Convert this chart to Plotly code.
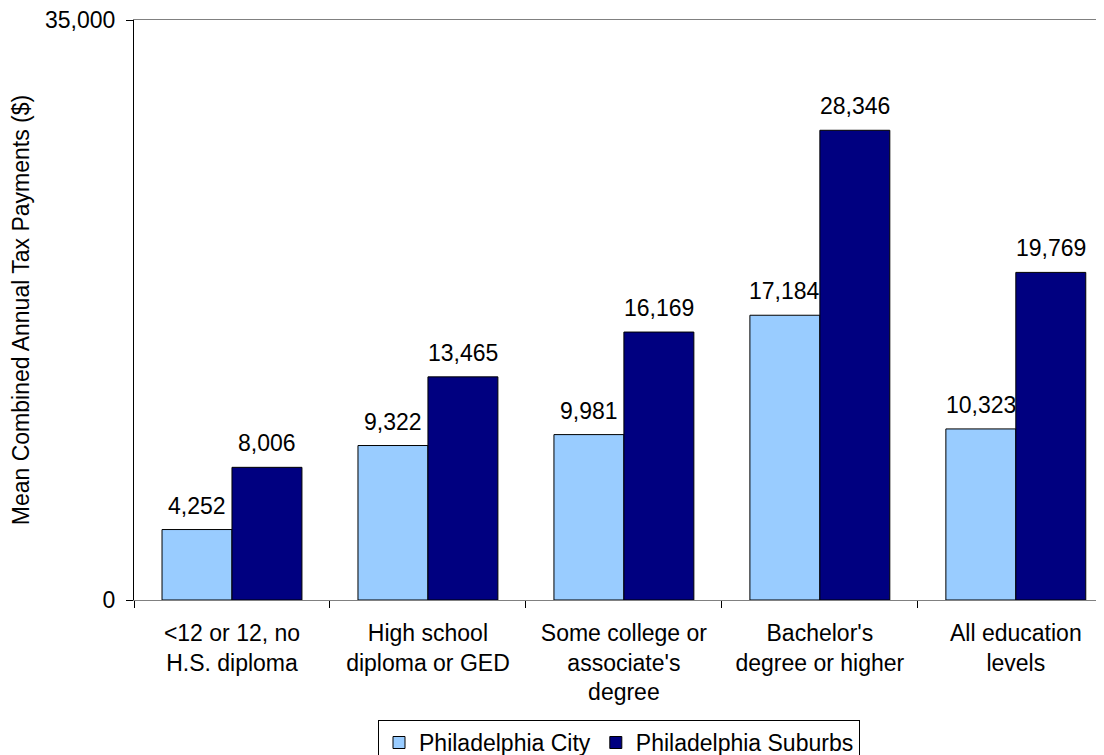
import plotly.graph_objects as go

categories = [
    "<12 or 12, no\nH.S. diploma",
    "High school\ndiploma or GED",
    "Some college or\nassociate's\ndegree",
    "Bachelor's\ndegree or higher",
    "All education\nlevels",
]
city_values = [4252, 9322, 9981, 17184, 10323]
suburb_values = [8006, 13465, 16169, 28346, 19769]
series_names = ["Philadelphia City", "Philadelphia Suburbs"]
y_tick_values = [0, 35000]
y_tick_labels = ["0", "35,000"]

labels = [c.replace("<", "&lt;").replace("\n", "<br>") for c in categories]

FONT = "Liberation Sans, Arial, sans-serif"
FS = 23
PAGE_OFFSET = 8  # default body margin of the html page

fig = go.Figure()
fig.add_trace(go.Bar(name=series_names[0], x=labels, y=city_values,
                     marker=dict(color="#99CCFF", line=dict(color="black", width=1))))
fig.add_trace(go.Bar(name=series_names[1], x=labels, y=suburb_values,
                     marker=dict(color="#000080", line=dict(color="black", width=1))))

for vals, shift in ((city_values, -35), (suburb_values, 35)):
    for lab, v in zip(labels, vals):
        fig.add_annotation(x=lab, y=v, text=f"{v:,}", showarrow=False,
                           xref="x", yref="y", xanchor="center", yanchor="bottom",
                           xshift=shift, yshift=9,
                           font=dict(family=FONT, size=FS, color="black"))

fig.update_layout(
    width=1104 - PAGE_OFFSET, height=755 - PAGE_OFFSET,
    margin=dict(l=134 - PAGE_OFFSET, r=0, t=20 - PAGE_OFFSET, b=155,
                autoexpand=False),
    paper_bgcolor="white", plot_bgcolor="white",
    barmode="group", bargap=0.286, bargroupgap=0,
    font=dict(family=FONT, size=FS, color="black"),
    showlegend=True,
    legend=dict(orientation="h", x=0.5, xanchor="center", y=-0.207, yanchor="top",
                bordercolor="black", borderwidth=1, font=dict(size=FS),
                itemwidth=30, tracegroupgap=0),
)
fig.update_xaxes(range=[-0.5, 4.45], showline=True, linecolor="#808080", linewidth=1,
                 mirror=True, ticks="outside", tickson="boundaries", ticklen=7,
                 tickcolor="black", showgrid=False, zeroline=False, automargin=False,
                 ticklabelstandoff=12, tickfont=dict(size=FS), tickangle=0)
fig.update_yaxes(range=[0, 35000], tickvals=y_tick_values, ticktext=y_tick_labels,
                 showline=True, linecolor="black", linewidth=1, ticks="outside",
                 ticklen=7, tickcolor="black", showgrid=False, zeroline=False,
                 automargin=False, ticklabelstandoff=6, ticklabeloverflow="allow",
                 tickfont=dict(size=FS),
                 title=dict(text="Mean Combined Annual Tax Payments ($)",
                            font=dict(size=FS), standoff=26))

fig.write_html("out.html")
